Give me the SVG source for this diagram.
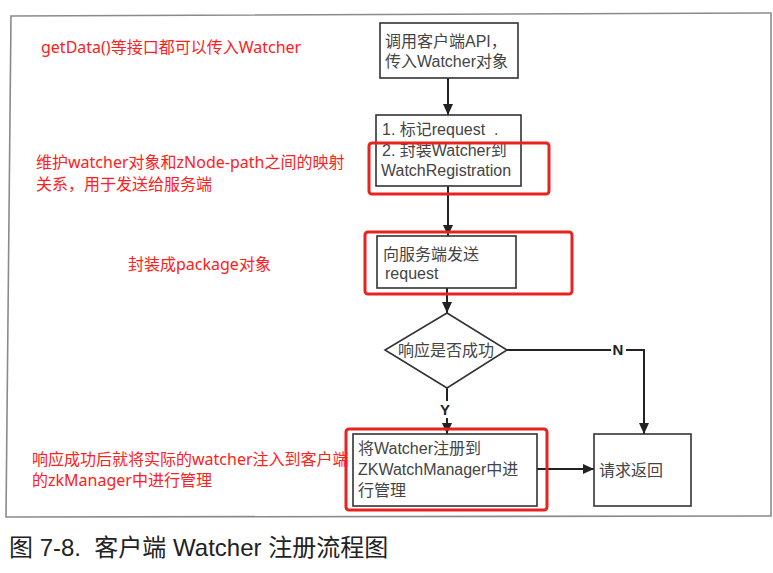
<svg xmlns="http://www.w3.org/2000/svg" width="773" height="573" viewBox="0 0 773 573">
<style>
.node{fill:#fff;stroke:#333;stroke-width:1.6}
.nt{font-family:"Liberation Sans","Noto Sans CJK SC",sans-serif;font-size:16px;fill:#444}
.red{font-family:"Noto Sans","Noto Sans CJK SC",sans-serif;font-size:16px;fill:#ff2020}
.hl{fill:none;stroke:#e8231f;stroke-width:3}
.conn{fill:none;stroke:#222;stroke-width:2}
.lbl{font-family:"Liberation Sans",sans-serif;font-size:15px;font-weight:bold;fill:#222}
.cap{font-family:"Liberation Sans","Noto Sans CJK SC",sans-serif;font-size:24px;fill:#222}
</style>
<defs>
<marker id="ah" markerUnits="userSpaceOnUse" markerWidth="11" markerHeight="10" refX="11" refY="5" orient="auto">
<path d="M0,0 L11,5 L0,10 z" fill="#222"/>
</marker>
</defs>
<rect width="773" height="573" fill="#fff"/>
<polygon points="11,16 771,13 771,516 6,517" fill="none" stroke="#8a8a8a" stroke-width="1.6"/>

<g id="connectors">
<line class="conn" x1="448" y1="78" x2="448" y2="115" marker-end="url(#ah)"/>
<line class="conn" x1="448" y1="186" x2="448" y2="236" marker-end="url(#ah)"/>
<line class="conn" x1="447" y1="288" x2="447" y2="313" marker-end="url(#ah)"/>
<line class="conn" x1="447" y1="388" x2="447" y2="434" marker-end="url(#ah)"/>
<polyline class="conn" points="507,350 644,350 644,434" marker-end="url(#ah)"/>
<line class="conn" x1="537" y1="469" x2="594" y2="469" marker-end="url(#ah)"/>
<rect x="438" y="401" width="14" height="17" fill="#fff"/>
<text class="lbl" x="445" y="415" text-anchor="middle">Y</text>
<rect x="611" y="343" width="15" height="14" fill="#fff"/>
<text class="lbl" x="618" y="355" text-anchor="middle">N</text>
</g>

<g id="n1">
<rect class="node" x="380" y="23" width="138" height="55"/>
<text class="nt" x="385" y="47">调用客户端API，</text>
<text class="nt" x="385" y="67">传入Watcher对象</text>
</g>
<g id="n2">
<rect class="node" x="376" y="115" width="145" height="71"/>
<text class="nt" x="382" y="135" xml:space="preserve">1. 标记request  .</text>
<text class="nt" x="382" y="156">2. 封装Watcher到</text>
<text class="nt" x="381" y="176">WatchRegistration</text>
</g>
<g id="n3">
<rect class="node" x="377" y="236" width="139" height="52"/>
<text class="nt" x="383" y="260">向服务端发送</text>
<text class="nt" x="385" y="279">request</text>
</g>
<g id="n4">
<polygon class="node" points="447,313 507,350 447,388 385,350"/>
<text class="nt" x="398" y="356">响应是否成功</text>
</g>
<g id="n5">
<rect class="node" x="353" y="434" width="184" height="72"/>
<text class="nt" x="358" y="454">将Watcher注册到</text>
<text class="nt" x="358" y="475">ZKWatchManager中进</text>
<text class="nt" x="358" y="496">行管理</text>
</g>
<g id="n6">
<rect class="node" x="594" y="434" width="97" height="72"/>
<text class="nt" x="599" y="476">请求返回</text>
</g>

<g id="highlights">
<rect class="hl" x="369" y="143" width="180" height="51" rx="3"/>
<rect class="hl" x="365" y="232" width="207" height="62" rx="3"/>
<rect class="hl" x="346" y="429" width="201" height="81" rx="3"/>
</g>

<g id="notes">
<text class="red" x="41" y="53">getData()等接口都可以传入Watcher</text>
<text class="red" x="36" y="168">维护watcher对象和zNode-path之间的映射</text>
<text class="red" x="36" y="190">关系，用于发送给服务端</text>
<text class="red" x="128" y="270">封装成package对象</text>
<text class="red" x="32" y="465">响应成功后就将实际的watcher注入到客户端</text>
<text class="red" x="32" y="486">的zkManager中进行管理</text>
</g>

<text class="cap" x="9" y="556" xml:space="preserve">图 7-8.  客户端 Watcher 注册流程图</text>
</svg>
